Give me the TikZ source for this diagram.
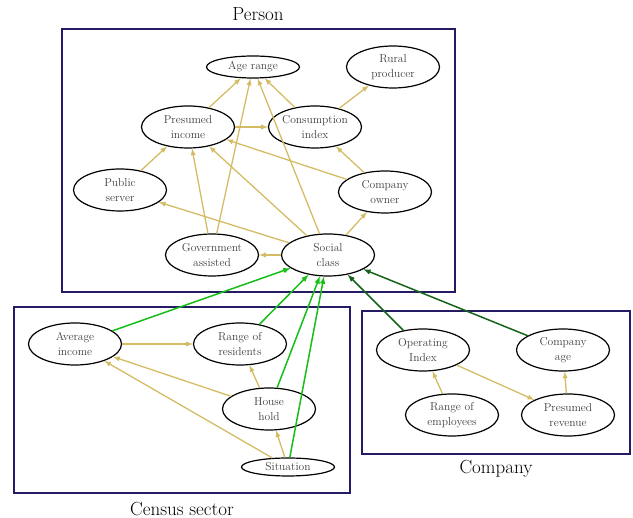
\documentclass[tikz,border=0pt]{standalone}
\usepackage{tikz}
\usetikzlibrary{arrows,shapes.geometric}
\definecolor{navy}{RGB}{35,28,100}
\definecolor{gold}{RGB}{212,188,100}
\definecolor{brightgreen}{RGB}{22,190,22}
\definecolor{darkgreen}{RGB}{22,100,26}
\tikzset{
  var/.style={ellipse,draw=black,line width=1.2pt,fill=white,text=black!75,align=center,
    inner sep=0pt,minimum width=93pt,minimum height=42pt,
    font=\fontsize{11.5}{15}\selectfont},
  flat/.style={var,minimum height=22pt},
  groupbox/.style={draw=navy,line width=2pt},
  grouplabel/.style={font=\fontsize{19}{22}\selectfont},
  dep/.style={color=gold,line width=1.3pt,-latex},
  sector/.style={color=brightgreen,line width=1.5pt,-latex},
  firm/.style={color=darkgreen,line width=1.5pt,-latex}
}

\begin{document}
\begin{tikzpicture}[x=1pt,y=-1pt]
    \useasboundingbox (0,0) rectangle (633,518);

    % Person
    \draw[groupbox] (62,29) rectangle (455,292);
    \node[grouplabel] (PT) at (258,14) {Person};
    \node[flat] (AR) at (253,67) {Age range};
    \node[var] (RP) at (393,67) {Rural\\producer};
    \node[var] (PI) at (188,127) {Presumed\\income};
    \node[var] (CI) at (315,127) {Consumption\\index};
    \node[var] (PS) at (120,190) {Public\\server};
    \node[var] (CO) at (385,192) {Company\\owner};
    \node[var] (GA) at (212,255) {Government\\assisted};
    \node[var] (SC) at (328,255) {Social\\class};
    \draw[dep] (PI) edge (AR) edge (CI);
    \draw[dep] (GA) edge (AR) edge (PI);
    \draw[dep] (SC) edge (AR) edge (PI) edge (PS) edge (GA) edge (CO);
    \draw[dep] (CI) edge (AR) edge (RP);
    \draw[dep] (PS) edge (PI);
    \draw[dep] (CO) edge (PI) edge (CI);

    % Census sector
    \draw[groupbox] (14,307) rectangle (350,493);
    \node[grouplabel] (CT) at (182,509) {Census sector};
    \node[var] (AI) at (75,344) {Average\\income};
    \node[var] (RR) at (240,344) {Range of\\residents};
    \node[var] (HH) at (269,409) {House\\hold};
    \node[var,minimum height=18pt] (SI) at (288,467) {Situation};
    \draw[dep] (AI) edge (RR);
    \draw[dep] (HH) edge (AI) edge (RR);
    \draw[dep] (SI) edge (AI) edge (HH);
    \draw[sector] (AI) edge (SC) (RR) edge (SC) (HH) edge (SC) (SI) edge (SC);

    % Company
    \draw[groupbox] (362,311) rectangle (630,454);
    \node[grouplabel] (FT) at (496,469) {Company};
    \node[var] (OI) at (423,350) {Operating\\Index};
    \node[var] (CA) at (563,350) {Company\\age};
    \node[var] (RE) at (452,415) {Range of\\employees};
    \node[var] (PR) at (568,415) {Presumed\\revenue};
    \draw[dep] (OI) edge (PR);
    \draw[dep] (RE) edge (OI);
    \draw[dep] (PR) edge (CA);
    \draw[firm] (OI) edge (SC) (CA) edge (SC);
  \end{tikzpicture}
\end{document}
